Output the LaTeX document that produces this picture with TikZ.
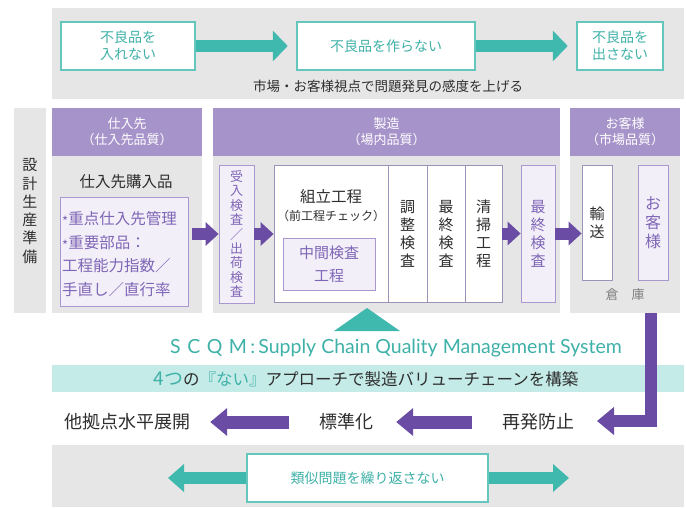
\documentclass[tikz,border=0pt]{standalone}
\usepackage{fontspec}
\setmainfont{Noto Sans CJK JP}
\newfontfamily\latofont{Lato}
\usetikzlibrary{arrows.meta,calc}
\definecolor{pgray}{HTML}{E6E6E6}
\definecolor{hpurp}{HTML}{A693CA}
\definecolor{apurp}{HTML}{6A4CA4}
\definecolor{lav}{HTML}{F3EFF9}
\definecolor{lavb}{HTML}{A898CE}
\definecolor{tpurp}{HTML}{7E66B6}
\definecolor{teal}{HTML}{3FB8AE}
\definecolor{tealt}{HTML}{3FB1A8}
\definecolor{tband}{HTML}{C4EBE7}
\definecolor{txt}{HTML}{2E2E2E}
\newcommand{\bul}{\raisebox{-2pt}{\fontsize{13}{13}\selectfont *}}
\begin{document}
\begin{tikzpicture}[x=1pt,y=-1pt,
  panel/.style={fill=pgray,draw=none,inner sep=0pt},
  head/.style={fill=hpurp,draw=none,inner sep=0pt,text=white,align=center,font=\fontsize{13}{16}\selectfont},
  tbox/.style={fill=white,draw=teal!80,line width=2.5pt,inner sep=0pt,text=tealt,align=center,font=\fontsize{14}{17}\selectfont},
  lbox/.style={fill=lav,draw=lavb,line width=0.8pt,inner sep=0pt,text=tpurp,align=center},
  wbox/.style={fill=white,draw=lavb!70!gray,line width=0.8pt,inner sep=0pt,text=txt,align=center},
  vt/.style={font=\fontsize{15}{18}\selectfont},
  parr/.style={draw=apurp,line width=12pt,-{Triangle[width=23pt,length=13pt]}},
  barr/.style={draw=apurp,line width=13pt,-{Triangle[width=27pt,length=17pt]}},
  tarr/.style={draw=teal,line width=12pt,-{Triangle[width=30pt,length=15pt]}},
  lbl/.style={text=txt,inner sep=0pt}
]
\useasboundingbox (0,0) rectangle (686,507);
\fill[white] (0,0) rectangle (686,507);

% top band
\node[panel,minimum width=632pt,minimum height=91pt] (topband) at (368,53.5) {};
\node[tbox,minimum width=134pt,minimum height=48pt] (b1) at (128,46) {不良品を\\入れない};
\node[tbox,minimum width=178pt,minimum height=48pt] (b2) at (386,46) {不良品を作らない};
\node[tbox,minimum width=86pt,minimum height=48pt] (b3) at (620,46) {不良品を\\出さない};
\draw[tarr] (b1.east) -- ([xshift=-8pt]b2.west);
\draw[tarr] (b2.east) -- ([xshift=-8pt]b3.west);
\node[lbl,font=\fontsize{13.5}{16}\selectfont] (tline) at (388,86) {市場・お客様視点で問題発見の感度を上げる};

% left strip
\node[panel,minimum width=32pt,minimum height=205pt] (strip) at (30,210.5) {};
\node[lbl,align=center,font=\fontsize{15}{18.3}\selectfont] (striptxt) at (30,211) {設\\計\\生\\産\\準\\備};

% supplier panel
\node[head,minimum width=150pt,minimum height=48pt] (suphead) at (127,132) {仕入先\\（仕入先品質）};
\node[panel,minimum width=150pt,minimum height=157pt] (supbody) at (127,234.5) {};
\node[lbl,font=\fontsize{15.5}{18}\selectfont] (suptitle) at (126,182) {仕入先購入品};
\node[lbox,minimum width=128pt,minimum height=109pt] (inbox) at (124,251.5) {};
\node[lbl,text=tpurp,anchor=west,align=left,font=\fontsize{15.5}{23.7}\selectfont] (intext) at (62,254)
 {\bul 重点仕入先管理\\\bul 重要部品：\\工程能力指数／\\手直し／直行率};

% manufacturing panel
\node[head,minimum width=347pt,minimum height=48pt] (mhead) at (386.5,132) {製造\\（場内品質）};
\node[panel,minimum width=347pt,minimum height=157pt] (mbody) at (386.5,234.5) {};
\node[lbox,minimum width=35pt,minimum height=138pt,font=\fontsize{13}{14.4}\selectfont] (uke) at (236.5,234) {受\\入\\検\\査\\／\\出\\荷\\検\\査};
\node[wbox,minimum width=114pt,minimum height=137pt] (kumi) at (331,233.5) {};
\node[wbox,minimum width=39pt,minimum height=137pt,vt] (chosei) at (407.5,233.5) {調\\整\\検\\査};
\node[wbox,minimum width=38pt,minimum height=137pt,vt] (saishu) at (446,233.5) {最\\終\\検\\査};
\node[wbox,minimum width=37pt,minimum height=137pt,vt] (seiso) at (483.5,233.5) {清\\掃\\工\\程};
\node[lbl,font=\fontsize{15.5}{18}\selectfont] (kumit) at (331,197) {組立工程};
\node[lbl,font=\fontsize{12}{14}\selectfont] (kumis) at (331,216) {（前工程チェック）};
\node[lbox,minimum width=92pt,minimum height=52pt,font=\fontsize{15}{23}\selectfont] (chukan) at (329,264) {中間検査\\工程};
\node[lbox,minimum width=34pt,minimum height=137pt,vt] (fin) at (538,233.5) {最\\終\\検\\査};

% customer panel
\node[head,minimum width=110pt,minimum height=48pt] (chead) at (625,132) {お客様\\（市場品質）};
\node[panel,minimum width=110pt,minimum height=157pt] (cbody) at (625,234.5) {};
\node[wbox,minimum width=30pt,minimum height=115pt,vt] (yuso) at (597,222.5) {輸\\送};
\node[lbox,minimum width=30pt,minimum height=115pt,font=\fontsize{16}{19}\selectfont] (okyaku) at (653,222.5) {お\\客\\様};
\node[lbl,text=gray,font=\fontsize{13}{15}\selectfont] (soko) at (625,295) {倉\quad 庫};

% purple process arrows
\draw[parr] ([xshift=4pt]inbox.east |- uke.center) -- (uke.west);
\draw[parr] (uke.east) -- (kumi.west |- uke.center);
\draw[parr] (seiso.east) -- (fin.west);
\draw[parr] (fin.east) -- (fin.east -| yuso.west);

% teal triangle
\fill[teal] (367,308) -- (400,331) -- (334,331) -- cycle;

% SCQM
\node[lbl,text=tealt,font=\latofont\fontsize{19.5}{24}\selectfont] (scqm) at (396,348) {S\,\,C\,\,Q\,\,M\,:\,Supply Chain Quality Management System};

% teal band
\node[panel,fill=tband,minimum width=632pt,minimum height=27pt] (band) at (368,378.5) {};
\node[lbl,font=\fontsize{16.5}{18}\selectfont] (bandtxt) at (366,379) {\textcolor{tealt}{\fontsize{19}{19}\selectfont 4つ}の\textcolor{tealt}{『ない』}アプローチで製造バリューチェーンを構築};

% bottom row
\node[lbl,font=\fontsize{18}{20}\selectfont] (t1) at (127,422) {他拠点水平展開};
\node[lbl,font=\fontsize{18}{20}\selectfont] (t2) at (346,422) {標準化};
\node[lbl,font=\fontsize{18}{20}\selectfont] (t3) at (538,422) {再発防止};
\draw[barr] ([xshift=-30pt]t2.west) -- ([xshift=20pt]t1.east);
\draw[barr] ([xshift=-30pt]t3.west) -- ([xshift=23pt]t2.east);
\coordinate (elb) at (651,421);
\coordinate (saitip) at (597,421);
\draw[barr,line width=12pt,line join=miter] (cbody.south -| elb) -- (elb) -- (saitip);

% bottom band
\node[panel,minimum width=632pt,minimum height=62pt] (botband) at (368,476) {};
\coordinate (ltip) at (168,478);
\coordinate (rtip) at (569,478);
\node[tbox,minimum width=241pt,minimum height=48pt] (rb) at (367.5,478) {類似問題を繰り返さない};
\draw[draw=teal,line width=12pt,-{Triangle[width=27pt,length=16pt]}] (rb.west) -- (ltip);
\draw[draw=teal,line width=12pt,-{Triangle[width=27pt,length=16pt]}] (rb.east) -- (rtip);
\end{tikzpicture}
\end{document}
